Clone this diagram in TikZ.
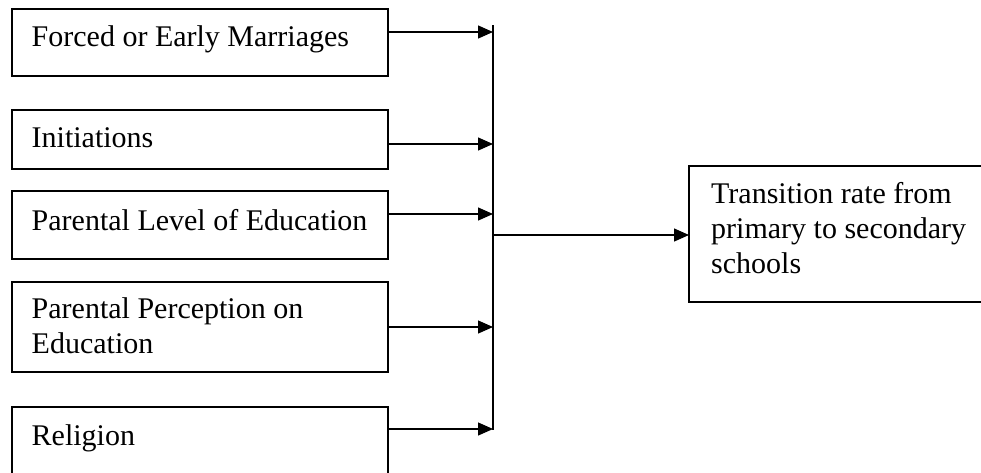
\documentclass[tikz,border=0pt]{standalone}
\usepackage{fontspec}
\setmainfont{Liberation Serif}
\usetikzlibrary{arrows.meta}
\begin{document}
\begin{tikzpicture}[x=1pt,y=-1pt,
  frame/.style={draw=black,line width=1.3pt,inner sep=0pt,outer sep=0pt},
  lbl/.style={anchor=base west,inner sep=0pt,font=\fontsize{30}{35}\selectfont,align=left},
  conn/.style={line width=1.3pt,-{Triangle[length=15pt,width=13pt]}},
  bus/.style={line width=1.3pt}]
\useasboundingbox (0,0) rectangle (981,472);
% boxes
\node[frame,anchor=north west,minimum width=376pt,minimum height=67pt] (b1) at (12,9) {};
\node[frame,anchor=north west,minimum width=376pt,minimum height=59pt] (b2) at (12,110) {};
\node[frame,anchor=north west,minimum width=376pt,minimum height=68pt] (b3) at (12,191) {};
\node[frame,anchor=north west,minimum width=376pt,minimum height=90pt] (b4) at (12,282) {};
\node[frame,anchor=north west,minimum width=376pt,minimum height=80pt] (b5) at (12,407) {};
\node[frame,anchor=north west,minimum width=320pt,minimum height=136pt] (t) at (689,166) {};
% texts
\node[lbl] (l1) at (31.5,46.7) {Forced or Early Marriages};
\node[lbl] (l2) at (31.5,147.3) {Initiations};
\node[lbl] (l3) at (31.5,230) {Parental Level of Education};
\node[lbl] (l4) at (31.5,353) {Parental Perception on\\Education};
\node[lbl] (l5) at (31.5,445) {Religion};
\node[lbl] (lt) at (711,273) {Transition rate from\\primary to secondary\\schools};
% bus
\coordinate (bt) at (493,25);
\coordinate (bb) at (493,430);
\draw[bus] (bt) -- (bb);
\coordinate (e1) at (493,32);
\coordinate (e2) at (493,144);
\coordinate (e3) at (493,214);
\coordinate (e4) at (493,327);
\coordinate (e5) at (493,429);
\draw[conn] (b1.east |- e1) -- (e1);
\draw[conn] (b2.east |- e2) -- (e2);
\draw[conn] (b3.east |- e3) -- (e3);
\draw[conn] (b4.east |- e4) -- (e4);
\draw[conn] (b5.east |- e5) -- (e5);
\coordinate (m) at (493,235);
\draw[conn] (m) -- (t.west |- m);
\end{tikzpicture}
\end{document}
